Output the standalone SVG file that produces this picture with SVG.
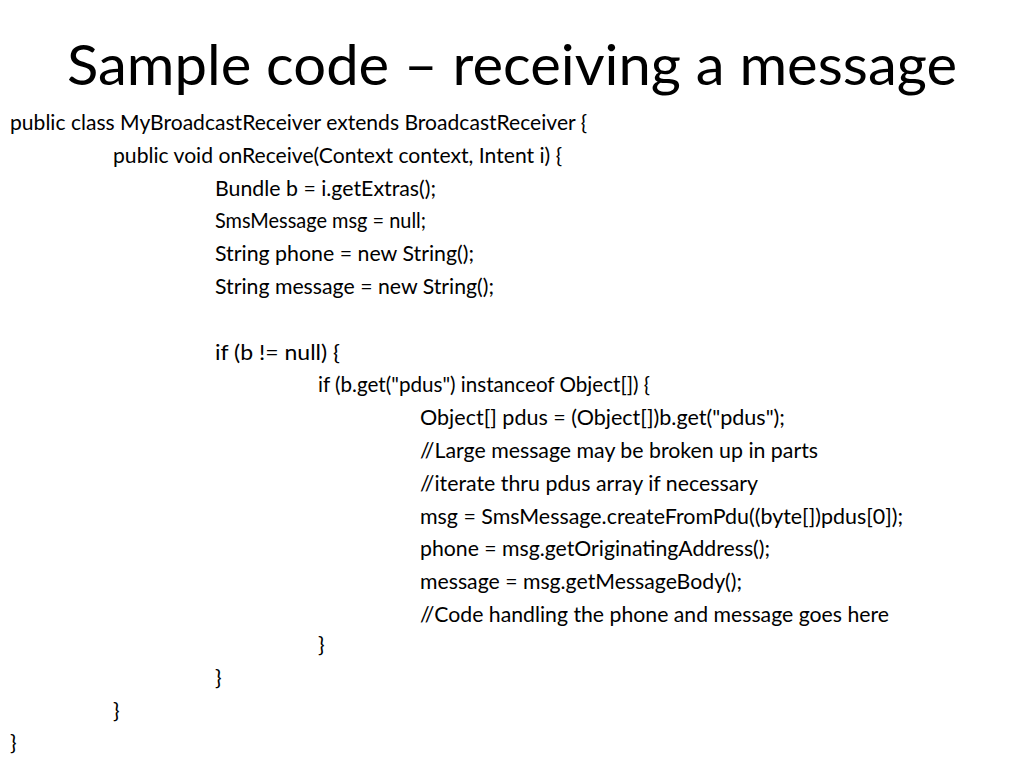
<svg xmlns="http://www.w3.org/2000/svg" width="1024" height="768" viewBox="0 0 1024 768">
<style>
.t{font-family:Lato,"Open Sans","Liberation Sans",sans-serif;font-size:56px;fill:#000}
.c{font-family:Lato,"Open Sans","Liberation Sans",sans-serif;font-size:22px;fill:#000}
</style>
<rect width="1024" height="768" fill="#fff"/>
<g id="title"><text class="t" x="67" y="85" textLength="890" lengthAdjust="spacingAndGlyphs">Sample code – receiving a message</text></g>
<g id="code">
<text class="c" x="10" y="130" textLength="577" lengthAdjust="spacingAndGlyphs">public class MyBroadcastReceiver extends BroadcastReceiver {</text>
<text class="c" x="113" y="163" textLength="449" lengthAdjust="spacingAndGlyphs">public void onReceive(Context context, Intent i) {</text>
<text class="c" x="215" y="196" textLength="221" lengthAdjust="spacingAndGlyphs">Bundle b = i.getExtras();</text>
<text class="c" x="215" y="228" textLength="211" lengthAdjust="spacingAndGlyphs">SmsMessage msg = null;</text>
<text class="c" x="215" y="261" textLength="259" lengthAdjust="spacingAndGlyphs">String phone = new String();</text>
<text class="c" x="215" y="294" textLength="279" lengthAdjust="spacingAndGlyphs">String message = new String();</text>
<text class="c" x="215" y="360" textLength="125" lengthAdjust="spacingAndGlyphs">if (b != null) {</text>
<text class="c" x="318" y="392" textLength="332" lengthAdjust="spacingAndGlyphs">if (b.get("pdus") instanceof Object[]) {</text>
<text class="c" x="420" y="425" textLength="365" lengthAdjust="spacingAndGlyphs">Object[] pdus = (Object[])b.get("pdus");</text>
<text class="c" x="420" y="458" textLength="398" lengthAdjust="spacingAndGlyphs">//Large message may be broken up in parts</text>
<text class="c" x="420" y="491" textLength="338" lengthAdjust="spacingAndGlyphs">//iterate thru pdus array if necessary</text>
<text class="c" x="420" y="524" textLength="483" lengthAdjust="spacingAndGlyphs">msg = SmsMessage.createFromPdu((byte[])pdus[0]);</text>
<text class="c" x="420" y="556" textLength="350" lengthAdjust="spacingAndGlyphs">phone = msg.getOriginatingAddress();</text>
<text class="c" x="420" y="589" textLength="322" lengthAdjust="spacingAndGlyphs">message = msg.getMessageBody();</text>
<text class="c" x="420" y="622" textLength="469" lengthAdjust="spacingAndGlyphs">//Code handling the phone and message goes here</text>
<text class="c" x="318" y="652">}</text>
<text class="c" x="215" y="685">}</text>
<text class="c" x="113" y="718">}</text>
<text class="c" x="10" y="750">}</text>
</g>
</svg>
